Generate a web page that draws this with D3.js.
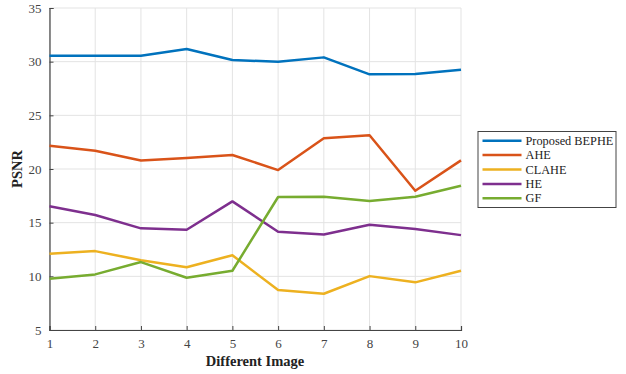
<!DOCTYPE html>
<html><head><meta charset="utf-8">
<script src="https://cdn.jsdelivr.net/npm/d3@7/dist/d3.min.js"></script>
<style>body{margin:0;background:#fff;}svg{display:block;}</style>
</head><body>
<svg id="c" width="626" height="374"></svg>
<script>
const images = [1,2,3,4,5,6,7,8,9,10];
const seriesNames = ["Proposed BEPHE","AHE","CLAHE","HE","GF"];
const bephe = [30.56,30.55,30.55,31.18,30.15,30.0,30.4,28.82,28.85,29.25];
const ahe   = [22.17,21.7,20.8,21.02,21.3,19.9,22.86,23.14,17.97,20.8];
const clahe = [12.1,12.35,11.5,10.84,11.96,8.72,8.38,10.02,9.44,10.52];
const he    = [16.52,15.71,14.47,14.34,16.98,14.15,13.9,14.8,14.4,13.84];
const gf    = [9.77,10.18,11.33,9.87,10.52,17.39,17.42,17.01,17.42,18.44];
const yTicks = [5,10,15,20,25,30,35];
const colors = ["#0072BD","#D95319","#EDB120","#7E2F8E","#77AC30"];
const allSeries = [bephe, ahe, clahe, he, gf];

const svg = d3.select("#c");
const L = 49.5, R = 461, T = 8, B = 330;
const x = d3.scaleLinear().domain([1,10]).range([L,R]);
const y = d3.scaleLinear().domain([5,35]).range([B,T]);

// grid
const g = svg.append("g");
g.selectAll("line.vx").data(images).enter().append("line")
  .attr("x1",d=>x(d)).attr("x2",d=>x(d)).attr("y1",T).attr("y2",B)
  .attr("stroke","#e3e3e3").attr("stroke-width",1);
g.selectAll("line.hy").data(yTicks).enter().append("line")
  .attr("x1",L).attr("x2",R).attr("y1",d=>y(d)).attr("y2",d=>y(d))
  .attr("stroke","#e3e3e3").attr("stroke-width",1);

// axes
const font = "'Liberation Serif','Times New Roman',serif";
const xAxis = svg.append("g").attr("transform",`translate(0,${B})`)
  .call(d3.axisBottom(x).tickValues(images).tickSize(-4).tickPadding(9).tickFormat(d3.format("d")));
const yAxis = svg.append("g").attr("transform",`translate(${L},0)`)
  .call(d3.axisLeft(y).tickValues(yTicks).tickSize(-4).tickPadding(8));
[xAxis,yAxis].forEach(a=>{
  a.select(".domain").attr("stroke","#444").attr("stroke-width",1.2);
  a.selectAll(".tick line").attr("stroke","#444");
  a.selectAll("text").attr("font-family",font).attr("font-size",13).attr("fill","#444");
});

// lines
const line = d3.line().x((d,i)=>x(images[i])).y(d=>y(d));
allSeries.forEach((s,k)=>{
  svg.append("path").datum(s).attr("d",line).attr("fill","none")
    .attr("stroke",colors[k]).attr("stroke-width",2.5).attr("stroke-linejoin","round");
});

// labels
svg.append("text").attr("x",255).attr("y",366).attr("text-anchor","middle")
  .attr("font-family",font).attr("font-weight","bold").attr("font-size",14.5).attr("fill","#222")
  .text("Different Image");
svg.append("text").attr("transform","translate(22,169) rotate(-90)").attr("text-anchor","middle")
  .attr("font-family",font).attr("font-weight","bold").attr("font-size",14.5).attr("fill","#222")
  .text("PSNR");

// legend
const lg = svg.append("g");
lg.append("rect").attr("x",478).attr("y",131.5).attr("width",138).attr("height",76)
  .attr("fill","#fff").attr("stroke","#444").attr("stroke-width",1);
seriesNames.forEach((n,k)=>{
  const yy = 140.7 + k*14.4;
  lg.append("line").attr("x1",482.5).attr("x2",521.5).attr("y1",yy).attr("y2",yy)
    .attr("stroke",colors[k]).attr("stroke-width",2.5);
  lg.append("text").attr("x",525.5).attr("y",yy+4).attr("font-family",font)
    .attr("font-size",12.3).attr("fill","#222").text(n);
});
</script>
</body></html>
